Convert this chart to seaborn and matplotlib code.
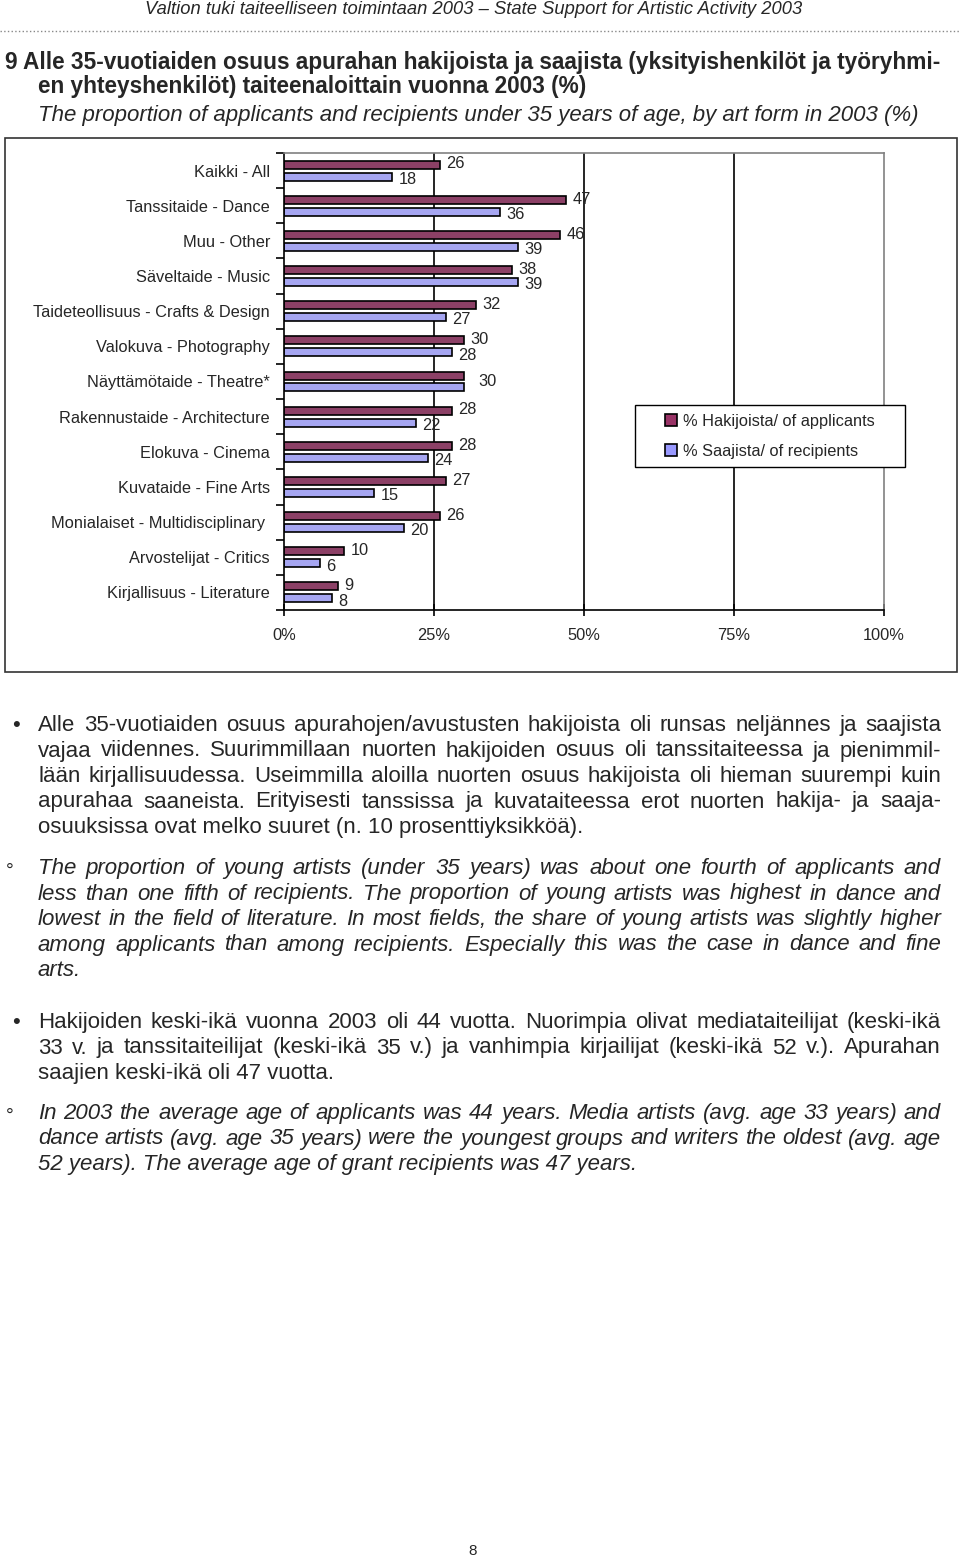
import numpy as np
import pandas as pd
import seaborn as sns
import matplotlib.pyplot as plt
from matplotlib.lines import Line2D
from matplotlib.patches import Rectangle

# data (top to bottom)
categories = ['Kaikki - All', 'Tanssitaide - Dance', 'Muu - Other', 'Säveltaide - Music',
              'Taideteollisuus - Crafts & Design', 'Valokuva - Photography',
              'Näyttämötaide - Theatre*', 'Rakennustaide - Architecture', 'Elokuva - Cinema',
              'Kuvataide - Fine Arts', 'Monialaiset - Multidisciplinary ', 'Arvostelijat - Critics',
              'Kirjallisuus - Literature']
applicants = [26, 47, 46, 38, 32, 30, 30, 28, 28, 27, 26, 10, 9]
recipients = [18, 36, 39, 39, 27, 28, 30, 22, 24, 15, 20, 6, 8]
series = ['% Hakijoista/ of applicants', '% Saajista/ of recipients']
colors = ['#993366', '#9999FF']
x_ticks = [0, 25, 50, 75, 100]

header = 'Valtion tuki taiteelliseen toimintaan 2003 – State Support for Artistic Activity 2003'
title_1 = '9 Alle 35-vuotiaiden osuus apurahan hakijoista ja saajista (yksityishenkilöt ja työryhmi-'
title_2 = 'en yhteyshenkilöt) taiteenaloittain vuonna 2003 (%)'
subtitle = 'The proportion of applicants and recipients under 35 years of age, by art form in 2003 (%)'

para_fi_1 = ['Alle 35-vuotiaiden osuus apurahojen/avustusten hakijoista oli runsas neljännes ja saajista',
             'vajaa viidennes. Suurimmillaan nuorten hakijoiden osuus oli tanssitaiteessa ja pienimmil-',
             'lään kirjallisuudessa. Useimmilla aloilla nuorten osuus hakijoista oli hieman suurempi kuin',
             'apurahaa saaneista. Erityisesti tanssissa ja kuvataiteessa erot nuorten hakija- ja saaja-',
             'osuuksissa ovat melko suuret (n. 10 prosenttiyksikköä).']
para_en_1 = ['The proportion of young artists (under 35 years) was about one fourth of applicants and',
             'less than one fifth of recipients. The proportion of young artists was highest in dance and',
             'lowest in the field of literature. In most fields, the share of young artists was slightly higher',
             'among applicants than among recipients. Especially this was the case in dance and fine',
             'arts.']
para_fi_2 = ['Hakijoiden keski-ikä vuonna 2003 oli 44 vuotta. Nuorimpia olivat mediataiteilijat (keski-ikä',
             '33 v. ja tanssitaiteilijat (keski-ikä 35 v.) ja vanhimpia kirjailijat (keski-ikä 52 v.). Apurahan',
             'saajien keski-ikä oli 47 vuotta.']
para_en_2 = ['In 2003 the average age of applicants was 44 years. Media artists (avg. age 33 years) and',
             'dance artists (avg. age 35 years) were the youngest groups and writers the oldest (avg. age',
             '52 years). The average age of grant recipients was 47 years.']

sns.set_style('white')
plt.rcParams['font.family'] = ['Liberation Sans', 'DejaVu Sans']

W, H = 960, 1557
fig = plt.figure(figsize=(W / 100, H / 100), dpi=100)


def fx(x):
    return x / W


def fy(y):
    return 1 - y / H


# page header
fig.text(fx(474), fy(10), header, ha='center', va='center', fontsize=13.2, style='italic')
fig.add_artist(Line2D([0, 1], [fy(31), fy(31)], ls=':', color='#888888', lw=1))
fig.text(fx(5), fy(62), title_1, ha='left', va='center', fontsize=16.3, fontweight='bold')
fig.text(fx(38), fy(87), title_2, ha='left', va='center', fontsize=16.3, fontweight='bold')
fig.text(fx(38), fy(115), subtitle, ha='left', va='center', fontsize=16, style='italic')

# chart frame
fig.add_artist(Rectangle((fx(5), fy(672)), fx(957) - fx(5), fy(138) - fy(672),
                         transform=fig.transFigure, fill=False, edgecolor='#333333', lw=1.2))

ax = fig.add_axes([fx(284), fy(610), fx(884) - fx(284), fy(153) - fy(610)])
df = pd.DataFrame({'ala': categories * 2,
                   'osuus': applicants + recipients,
                   'ryhma': [series[0]] * len(categories) + [series[1]] * len(categories)})
sns.barplot(data=df, x='osuus', y='ala', hue='ryhma', palette=colors, orient='h',
            width=0.68, gap=0.33, edgecolor='black', linewidth=1.2, errorbar=None,
            legend=False, ax=ax)

ax.set_xlim(0, 100)
ax.set_ylim(len(categories) - 0.5, -0.5)
ax.set_xticks(x_ticks)
ax.set_xticklabels([f'{t}%' for t in x_ticks])
ax.set_xlabel('')
ax.set_ylabel('')
for t in x_ticks[1:-1]:
    ax.axvline(t, color='black', lw=1.2, zorder=0)

for s in ['left', 'bottom']:
    ax.spines[s].set_color('black')
    ax.spines[s].set_linewidth(1.2)
for s in ['top', 'right']:
    ax.spines[s].set_color('#808080')
    ax.spines[s].set_linewidth(1.2)

ax.set_yticks(np.arange(-0.5, len(categories), 1), minor=True)
ax.tick_params(axis='y', which='major', length=0, pad=10, labelsize=11.8)
ax.tick_params(axis='y', which='minor', left=True, length=6, width=1.2, color='black')
ax.tick_params(axis='x', direction='inout', bottom=True, length=8, width=1.2, color='black',
               pad=9, labelsize=11.8)

# value labels
for i, (a, r) in enumerate(zip(ax.containers[0], ax.containers[1])):
    ya = a.get_y() + a.get_height() / 2
    yr = r.get_y() + r.get_height() / 2
    if applicants[i] == recipients[i]:
        ax.annotate(f'{applicants[i]}', (a.get_width(), (ya + yr) / 2), xytext=(10, 0),
                    textcoords='offset points', ha='left', va='center', fontsize=11.8)
    else:
        ax.annotate(f'{applicants[i]}', (a.get_width(), ya), xytext=(4.5, 0.5),
                    textcoords='offset points', ha='left', va='center', fontsize=11.8)
        ax.annotate(f'{recipients[i]}', (r.get_width(), yr), xytext=(4.5, -2),
                    textcoords='offset points', ha='left', va='center', fontsize=11.8)

# legend
fig.add_artist(Rectangle((fx(635), fy(467)), fx(905) - fx(635), fy(405) - fy(467),
                         transform=fig.transFigure, fill=True, facecolor='white',
                         edgecolor='black', lw=1.0, zorder=3))
handles = [Line2D([], [], marker='s', ls='none', markersize=8.5, markerfacecolor=c,
                  markeredgecolor='black', markeredgewidth=1.2) for c in colors]
leg = fig.legend(handles, series, loc='upper left', bbox_to_anchor=(fx(660), fy(409)),
                 frameon=False, fontsize=11.8, labelspacing=0.9, handlelength=0.8,
                 handletextpad=0.3, borderpad=0.3, borderaxespad=0)
leg.set_zorder(4)

# body text, justified
renderer = fig.canvas.get_renderer()


def paragraph(lines, y0, style, left=38, right=941, step=25.5, size=16):
    for k, line in enumerate(lines):
        y = fy(y0 + k * step + 6)
        if k == len(lines) - 1:
            fig.text(fx(left), y, line, ha='left', va='baseline', fontsize=size, style=style)
            continue
        words = line.split(' ')
        texts = [fig.text(0, y, w, ha='left', va='baseline', fontsize=size, style=style)
                 for w in words]
        widths = [t.get_window_extent(renderer).width for t in texts]
        space = (right - left - sum(widths)) / (len(words) - 1)
        x = left
        for t, w in zip(texts, widths):
            t.set_x(fx(x))
            x += w + space


fig.text(fx(16), fy(731), '•', ha='center', va='baseline', fontsize=16)
paragraph(para_fi_1, 725, 'normal')
fig.text(fx(10), fy(876), '°', ha='center', va='baseline', fontsize=14)
paragraph(para_en_1, 868, 'italic')
fig.text(fx(16), fy(1028), '•', ha='center', va='baseline', fontsize=16)
paragraph(para_fi_2, 1022, 'normal')
fig.text(fx(10), fy(1121), '°', ha='center', va='baseline', fontsize=14)
paragraph(para_en_2, 1113, 'italic')

fig.text(fx(473), fy(1551), '8', ha='center', va='center', fontsize=11)

fig.savefig('out.png', dpi=100)
